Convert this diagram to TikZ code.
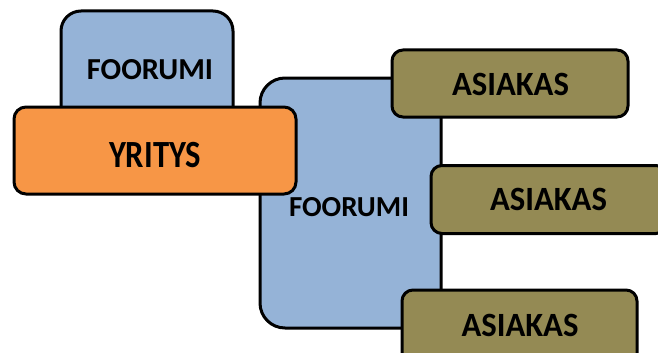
\documentclass[tikz,border=0pt]{standalone}
\usepackage{graphicx}
\usepackage{fontspec}
\setmainfont{Carlito}
\definecolor{forumblue}{HTML}{95B3D7}
\definecolor{firmorange}{HTML}{F79646}
\definecolor{clientolive}{HTML}{948A54}
\begin{document}
\begin{tikzpicture}[x=1pt,y=-1pt,
  box/.style={draw=black, line width=3pt, rectangle},
  label/.style={font=\bfseries, text=black, inner sep=0pt}]
\useasboundingbox (0,0) rectangle (658,353);
\clip (0,0) rectangle (658,353);
% small forum behind the company box
\node[box, fill=forumblue, rounded corners=20pt, minimum width=172pt, minimum height=120pt] (forumA) at (147,71) {};
\node[label] (forumAtext) at (150,70) {\fontsize{30.5}{33}\selectfont FOORUMI};
% large forum in the middle
\node[box, fill=forumblue, rounded corners=25pt, minimum width=181pt, minimum height=250pt] (forumB) at (350.5,203) {};
\node[label] (forumBtext) at (349,207) {\fontsize{29}{32}\selectfont FOORUMI};
% company
\node[box, fill=firmorange, rounded corners=12pt, minimum width=282pt, minimum height=87pt] (firm) at (155,150.5) {};
\node[label] (firmtext) at (155,155.5) {\scalebox{1}[1.18]{\fontsize{32.6}{35}\selectfont YRITYS}};
% customers
\node[box, fill=clientolive, rounded corners=11pt, minimum width=236pt, minimum height=67pt] (c1) at (510,83.5) {};
\node[label] (c1text) at (510.5,84) {\scalebox{1}[1.04]{\fontsize{32.7}{35}\selectfont ASIAKAS}};
\node[box, fill=clientolive, rounded corners=11pt, minimum width=236pt, minimum height=68pt] (c2) at (549,199.5) {};
\node[label] (c2text) at (548.5,199.5) {\scalebox{1}[1.04]{\fontsize{32.7}{35}\selectfont ASIAKAS}};
\node[box, fill=clientolive, rounded corners=11pt, minimum width=235pt, minimum height=80pt] (c3) at (519.5,330) {};
\node[label] (c3text) at (520,325.5) {\scalebox{1}[1.04]{\fontsize{32.7}{35}\selectfont ASIAKAS}};
\end{tikzpicture}
\end{document}
